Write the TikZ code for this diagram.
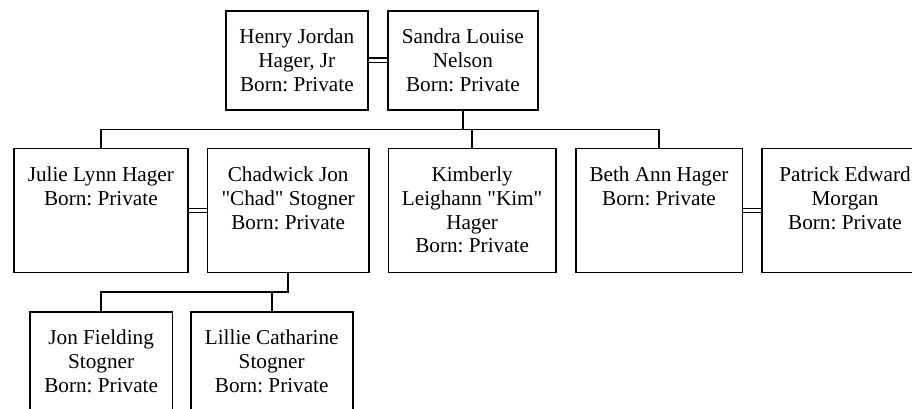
\documentclass[tikz,border=0pt]{standalone}
\usepackage{fontspec}
\setmainfont{Liberation Serif}
\newfontfamily\plainserif{Liberation Serif}
\begin{document}
\frenchspacing
\begin{tikzpicture}[x=1pt,y=-1pt,
  person/.style={draw, rectangle, line width=1.6pt, inner sep=0pt},
  row1/.style={person, minimum height=99.3pt},
  row2/.style={person, minimum height=124pt},
  ptext/.style={anchor=north, align=center, inner sep=0pt, yshift=-17pt,
    font=\plainserif\fontsize{21.2pt}{23.8pt}\selectfont},
  link/.style={line width=1.6pt},
  spouse/.style={double, double distance=3.2pt, line width=1.3pt}]
\useasboundingbox (0,0) rectangle (912,408);
\clip (0,0) rectangle (912,408);
% boxes
\node[row1, minimum width=142.3pt] (henry) at (296.85,60.35) {};
\node[row1, minimum width=150.3pt] (sandra) at (462.85,60.35) {};
\node[row2, minimum width=173.7pt] (julie) at (100.85,210.5) {};
\node[row2, minimum width=161.7pt] (chad) at (288.15,210.5) {};
\node[row2, minimum width=167.7pt] (kim) at (472.15,210.5) {};
\node[row2, minimum width=166.6pt] (beth) at (659,210.5) {};
\node[row2, minimum width=166.6pt] (patrick) at (845,210.5) {};
\node[row2, minimum width=142.3pt] (jon) at (101.15,373.7) {};
\node[row2, minimum width=162pt] (lillie) at (271.7,373.7) {};
% texts
\node[ptext] (henryt) at (henry.north) {\strut Henry Jordan\\Hager, Jr\\Born: Private};
\node[ptext] (sandrat) at (sandra.north) {\strut Sandra Louise\\Nelson\\Born: Private};
\node[ptext] (juliet) at (julie.north) {\strut Julie Lynn Hager\\Born: Private};
\node[ptext] (chadt) at (chad.north) {\strut Chadwick Jon\\"Chad" Stogner\\Born: Private};
\node[ptext] (kimt) at (kim.north) {\strut Kimberly\\Leighann "Kim"\\Hager\\Born: Private};
\node[ptext] (betht) at (beth.north) {\strut Beth Ann Hager\\Born: Private};
\node[ptext] (patrickt) at (patrick.north) {\strut Patrick Edward\\Morgan\\Born: Private};
\node[ptext] (jont) at (jon.north) {\strut Jon Fielding\\Stogner\\Born: Private};
\node[ptext] (lilliet) at (lillie.north) {\strut Lillie Catharine\\Stogner\\Born: Private};
% connectors
\coordinate (bar) at (0,129.5);
\coordinate (bar2) at (0,291.7);
\draw[spouse] (henry) -- (sandra);
\draw[spouse] (julie) -- (chad);
\draw[spouse] (beth) -- (patrick);
\draw[link] (sandra.south) -- (sandra.south |- bar);
\draw[link] (julie.north) -- (julie.north |- bar) -- (beth.north |- bar) -- (beth.north);
\draw[link] (kim.north) -- (kim.north |- bar);
\draw[link] (chad.south) -- (chad.south |- bar2) -- (jon.north |- bar2) -- (jon.north);
\draw[link] (lillie.north) -- (lillie.north |- bar2);
\end{tikzpicture}
\end{document}
